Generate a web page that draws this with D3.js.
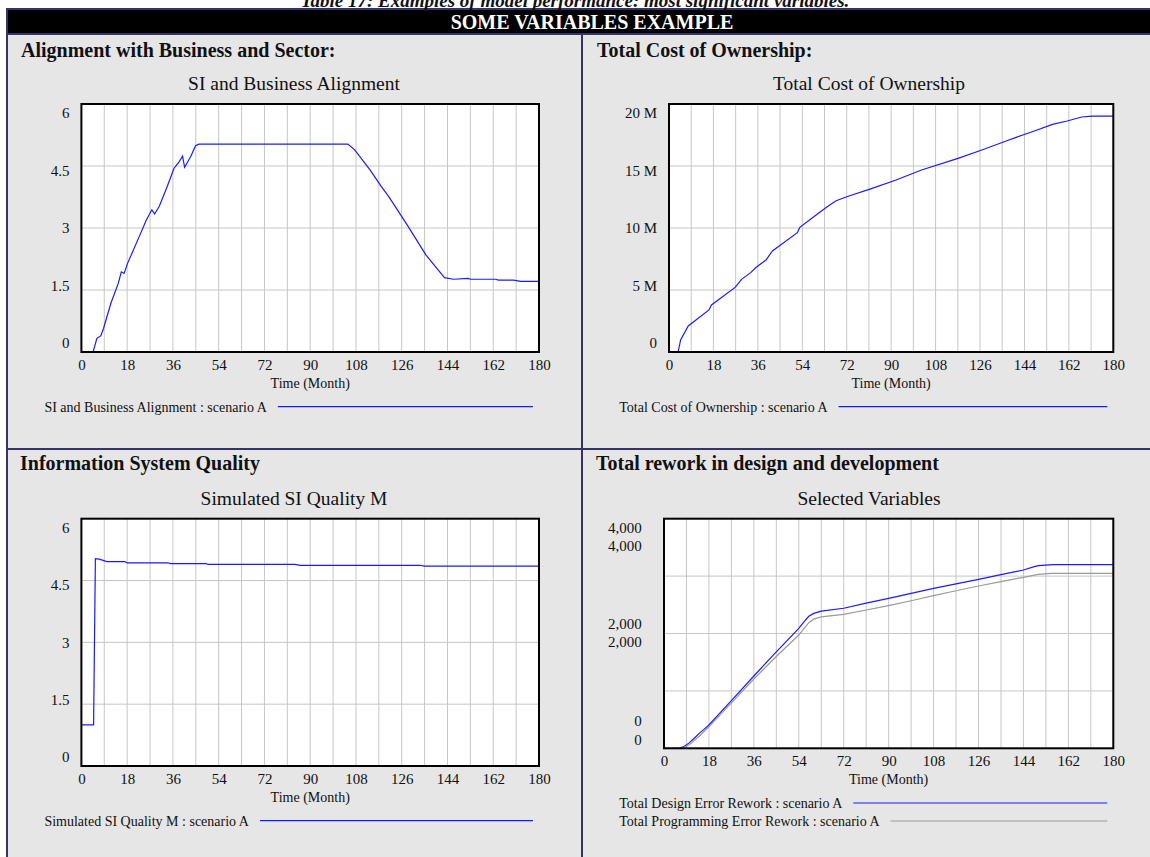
<!DOCTYPE html>
<html><head><meta charset="utf-8">
<script src="https://cdn.jsdelivr.net/npm/d3@7"></script>
<style>
body{margin:0;background:#fff;}
svg text{font-family:"Liberation Serif","Times New Roman",Times,serif;fill:#111;}
</style>
</head><body>
<svg id="c" width="1150" height="857"></svg>
<script>
// ---------------- DATA ----------------
const xTickValues = [0,18,36,54,72,90,108,126,144,162,180];
const xGridValues = [9,18,27,36,45,54,63,72,81,90,99,108,117,126,135,144,153,162,171];

// Panel 1: SI and Business Alignment
const alignT = [0,4.6,6.1,7.6,8.7,11.6,14.5,15.7,16.8,18.2,23.3,25.5,27.7,28.8,30.6,33.5,36.4,38.2,39.8,40.6,43,44.9,46.2,104.8,107.5,113.6,118,120.9,128.2,135.5,142,142.8,146.4,152.2,153,163,164,170,172.8,180];
const alignV = [0,0,0.33,0.39,0.57,1.18,1.66,1.94,1.90,2.15,2.87,3.19,3.44,3.34,3.52,3.96,4.44,4.58,4.74,4.47,4.73,4.99,5.03,5.03,4.89,4.40,4.0,3.76,3.07,2.35,1.86,1.80,1.76,1.78,1.76,1.76,1.74,1.74,1.71,1.71];
const alignYTicks = [0,1.5,3,4.5,6];
const alignYLabels = ["0","1.5","3","4.5","6"];

// Panel 2: Total Cost of Ownership (millions)
const tcoT = [0,3.7,4.7,7.8,16.2,17.2,26.8,29.4,33.1,35.3,39.3,41.9,52,53,59.6,64.1,67.7,72.9,81.7,92,102.3,117.1,125.9,137.7,148,155.4,161.3,167.2,171.6,180];
const tcoV = [0,0,0.97,2.1,3.39,3.79,5.21,5.86,6.40,6.83,7.42,8.15,9.62,10.05,11.05,11.72,12.2,12.58,13.15,13.87,14.68,15.62,16.23,17.1,17.82,18.36,18.63,18.95,19.03,19.03];
const tcoYTicks = [0,5,10,15,20];
const tcoYLabels = ["0","5 M","10 M","15 M","20 M"];

// Panel 3: Simulated SI Quality M
const qualityT = [0,4.8,5.5,7,10,17,18,34,35,49,50,84,86,133,135,180];
const qualityV = [1.0,1.0,5.03,5.02,4.96,4.96,4.93,4.93,4.91,4.91,4.89,4.89,4.87,4.87,4.85,4.85];
const qualityYTicks = [0,1.5,3,4.5,6];
const qualityYLabels = ["0","1.5","3","4.5","6"];

// Panel 4: Selected Variables (rework)
const designT = [0,6,8,10,12,14,16,18,27,36,45,54,56,58,60,63,72,81,90,99,108,117,126,135,144,148,150,156,180];
const designV = [0,0,30,90,170,255,330,406,830,1260,1680,2090,2200,2300,2350,2390,2440,2530,2613,2700,2787,2865,2944,3025,3106,3160,3181,3199,3199];
const progT = [0,7,9,11,13,15,18,27,36,45,54,56,58,60,63,72,81,90,99,108,117,126,135,144,150,155,180];
const progV = [0,0,30,90,170,250,376,790,1207,1600,1974,2080,2188,2250,2290,2334,2410,2485,2570,2659,2745,2828,2905,2979,3031,3049,3049];
const reworkYDomain = [0,4000];
const reworkYTicks = [145,476,1857,2165,3537,3850];
const reworkYLabels = ["0","0","2,000","2,000","4,000","4,000"];

// ---------------- DRAW ----------------
const svg = d3.select("#c");
const NAVY = "#34346a", GREY = "#e6e6e6";
const FS = 14;      // legend / axis title size
const TFS = 15;     // tick labels

// background cells
svg.append("rect").attr("x",7).attr("y",35).attr("width",1143).attr("height",822).attr("fill",GREY);
// header bar
svg.append("rect").attr("x",7).attr("y",8).attr("width",1143).attr("height",2).attr("fill",NAVY);
svg.append("rect").attr("x",7).attr("y",10).attr("width",1143).attr("height",24).attr("fill","#000");
svg.append("rect").attr("x",7).attr("y",33).attr("width",1143).attr("height",2).attr("fill",NAVY);
// borders
svg.append("rect").attr("x",6).attr("y",8).attr("width",2).attr("height",849).attr("fill",NAVY);
svg.append("rect").attr("x",581).attr("y",35).attr("width",2).attr("height",822).attr("fill",NAVY);
svg.append("rect").attr("x",7).attr("y",448).attr("width",1143).attr("height",2).attr("fill",NAVY);

// top caption (clipped by page top, as in the source)
svg.append("text").attr("x",575).attr("y",6.5).attr("text-anchor","middle")
  .attr("font-size",19).attr("font-weight","bold").attr("font-style","italic")
  .text("Table 17: Examples of model performance: most significant variables.");
svg.append("text").attr("x",592).attr("y",28.5).attr("text-anchor","middle")
  .attr("font-size",20).attr("font-weight","bold").style("fill","#fff")
  .text("SOME VARIABLES EXAMPLE");

function panel(cfg){
  const g = svg.append("g");
  const {x0,x1,y0,y1} = cfg.plot;
  const x = d3.scaleLinear().domain([0,180]).range([x0,x1]);
  const y = d3.scaleLinear().domain(cfg.yDomain).range([y1,y0]);

  // heading
  g.append("text").attr("x",cfg.headX).attr("y",cfg.headY).attr("font-size",20)
    .attr("font-weight","bold").text(cfg.heading);
  // chart title
  g.append("text").attr("x",cfg.titleX).attr("y",y0-14).attr("text-anchor","middle")
    .attr("font-size",19.5).text(cfg.title);

  // plot background
  g.append("rect").attr("x",x0).attr("y",y0).attr("width",x1-x0).attr("height",y1-y0).attr("fill","#fff");
  // grid
  g.selectAll(".vg").data(xGridValues).join("line")
    .attr("x1",d=>x(d)).attr("x2",d=>x(d)).attr("y1",y0).attr("y2",y1)
    .attr("stroke","#c6c6c6").attr("stroke-width",1);
  const yd = cfg.yDomain, step=(yd[1]-yd[0])/4;
  g.selectAll(".hg").data([1,2,3].map(i=>yd[0]+i*step)).join("line")
    .attr("x1",x0).attr("x2",x1).attr("y1",d=>y(d)).attr("y2",d=>y(d))
    .attr("stroke","#c6c6c6").attr("stroke-width",1);

  // series
  cfg.series.forEach(s=>{
    const pts = s.t.map((t,i)=>[t,s.v[i]]);
    g.append("path").datum(pts)
      .attr("d", d3.line().x(d=>x(d[0])).y(d=>y(d[1])))
      .attr("fill","none").attr("stroke",s.color).attr("stroke-width",1.2);
  });

  // frame
  g.append("rect").attr("x",x0).attr("y",y0).attr("width",x1-x0).attr("height",y1-y0)
    .attr("fill","none").attr("stroke","#000").attr("stroke-width",2);

  // x axis labels
  const xa = g.append("g").attr("transform",`translate(0,${y1})`)
    .call(d3.axisBottom(x).tickValues(xTickValues).tickSize(0).tickPadding(7.5).tickFormat(d3.format("d")));
  xa.select(".domain").remove();
  xa.selectAll("text").style("font-size",TFS+"px").style("fill","#111");

  // y axis labels (Vensim style, spread inside the frame)
  const ly = cfg.labelScale ? cfg.labelScale : d3.scaleLinear().domain(cfg.yDomain).range([y1-9,y0+9]);
  const ya = g.append("g").attr("transform",`translate(${x0},0)`)
    .call(d3.axisLeft(ly).tickValues(cfg.yTicks).tickSize(0).tickPadding(cfg.yGap)
      .tickFormat((d,i)=>cfg.yLabels[i]));
  ya.select(".domain").remove();
  ya.selectAll("text").style("font-size",TFS+"px").style("fill","#111");

  // x axis title
  g.append("text").attr("x",(x0+x1)/2).attr("y",y1+36).attr("text-anchor","middle")
    .attr("font-size",FS).text("Time (Month)");

  // legend
  cfg.legend.forEach((L,i)=>{
    const ly0 = y1+54.7+i*18;
    const t = g.append("text").attr("x",cfg.legendX).attr("y",ly0+5).attr("font-size",FS).text(L.text);
    const w = t.node().getComputedTextLength();
    g.append("line").attr("x1",cfg.legendX+w+11).attr("x2",x1-6)
      .attr("y1",ly0).attr("y2",ly0).attr("stroke",L.color).attr("stroke-width",1.2);
  });
}

const BLUE = "#1a1aff";

panel({
  heading:"Alignment with Business and Sector:", headX:21, headY:57,
  title:"SI and Business Alignment", titleX:294,
  plot:{x0:81.4,x1:539,y0:104,y1:352},
  yDomain:[0,6], yTicks:alignYTicks, yLabels:alignYLabels, yGap:11.8,
  series:[{t:alignT,v:alignV,color:BLUE}],
  legendX:44.4, legend:[{text:"SI and Business Alignment : scenario A",color:BLUE}]
});
panel({
  heading:"Total Cost of Ownership:", headX:597, headY:57,
  title:"Total Cost of Ownership", titleX:869,
  plot:{x0:669,x1:1113.3,y0:104,y1:352},
  yDomain:[0,20], yTicks:tcoYTicks, yLabels:tcoYLabels, yGap:12,
  series:[{t:tcoT,v:tcoV,color:BLUE}],
  legendX:619.3, legend:[{text:"Total Cost of Ownership : scenario A",color:BLUE}]
});
panel({
  heading:"Information System Quality", headX:20, headY:470,
  title:"Simulated SI Quality M", titleX:294,
  plot:{x0:81.4,x1:539,y0:518.7,y1:766},
  yDomain:[0,6], yTicks:qualityYTicks, yLabels:qualityYLabels, yGap:11.8,
  series:[{t:qualityT,v:qualityV,color:BLUE}],
  legendX:44.4, legend:[{text:"Simulated SI Quality M : scenario A",color:BLUE}]
});
panel({
  heading:"Total rework in design and development", headX:596, headY:470,
  title:"Selected Variables", titleX:869,
  plot:{x0:664,x1:1113.3,y0:518.7,y1:748.3},
  yDomain:reworkYDomain, yTicks:reworkYTicks, yLabels:reworkYLabels, yGap:22.2,
  labelScale:d3.scaleLinear().domain(reworkYDomain).range([748.3,518.7]),
  series:[{t:designT,v:designV,color:BLUE},{t:progT,v:progV,color:"#9a9a9a"}],
  legendX:619.3, legend:[{text:"Total Design Error Rework : scenario A",color:BLUE},
                       {text:"Total Programming Error Rework : scenario A",color:"#9a9a9a"}]
});
</script>
</body></html>
